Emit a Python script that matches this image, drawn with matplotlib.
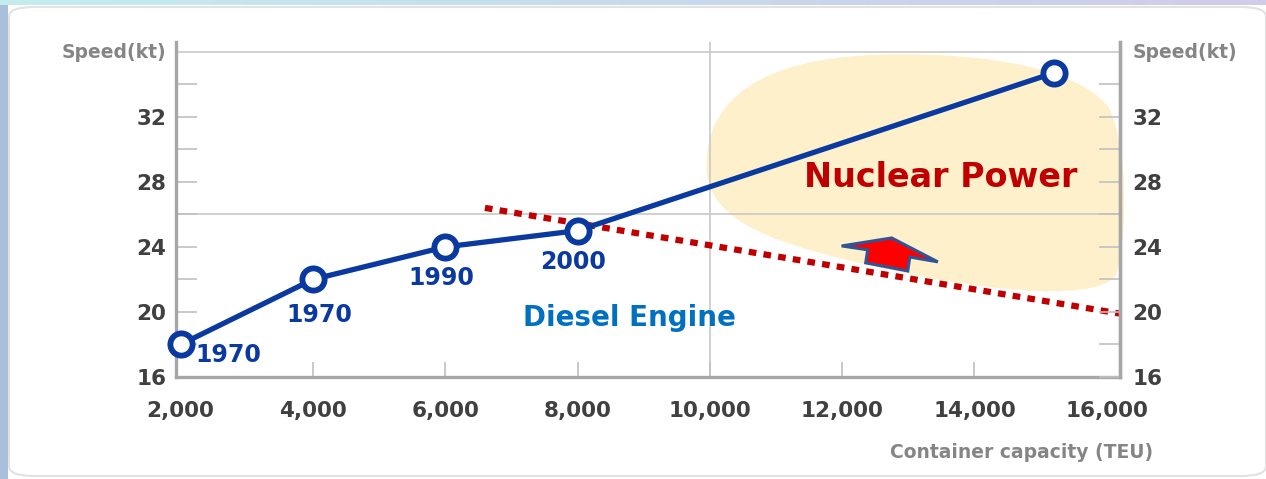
import numpy as np
import matplotlib.pyplot as plt
from matplotlib.path import Path
from matplotlib.patches import PathPatch, Polygon, Rectangle, FancyBboxPatch

plt.rcParams.update({
    "font.family": "DejaVu Sans",
    "font.weight": "bold",
    "lines.scale_dashes": False,
})

# ---------------- data ----------------
capacity = [2000, 4000, 6000, 8000, 15200]      # TEU
speed = [18, 22, 24, 25, 34.7]                   # kt
years = ["1970", "1970", "1990", "2000", ""]
label_offsets = [(48, -11), (6, -36), (-4, -31), (-4, -31), (0, 0)]  # px

limit_x = [6600, 16200]                          # diesel limit line
limit_y = [26.4, 19.9]

x_ticks = [2000, 4000, 6000, 8000, 10000, 12000, 14000, 16000]
x_ticklabels = ["2,000", "4,000", "6,000", "8,000", "10,000", "12,000", "14,000", "16,000"]
y_major = [16, 20, 24, 28, 32]
y_minor = [18, 22, 26, 30, 34]

# nuclear region blob (data coords, bezier control points)
blob = [(9949, 28.74),
        (9918, 33.05), (10766, 35.63), (12583, 35.82),
        (14248, 36.0), (15611, 34.89), (16035, 32.55),
        (16337, 29.97), (16307, 24.43), (16141, 22.28),
        (15914, 20.74), (14400, 21.05), (12583, 22.71),
        (11069, 24.12), (10009, 25.35), (9949, 28.74)]
arrow = [(12749, 24.55), (13446, 23.08), (13022, 23.38), (12992, 22.52),
         (12356, 23.02), (12386, 23.82), (11992, 24.06)]

LINE = "#0a3a9f"
TICK_TXT = "#404040"
GRAY_TXT = "#858585"
AXIS = "#a6a6a6"

W, H = 1266, 479
fig = plt.figure(figsize=(W / 100, H / 100), dpi=100)

# ---------------- frame decoration ----------------
fig.patches.append(Rectangle((0, 0), 8 / W, 1, transform=fig.transFigure,
                             facecolor="#a9bfdc", edgecolor="none", zorder=-10))
fig.patches.append(FancyBboxPatch((9 / W, 3 / H), (W - 9) / W, (H - 10) / H,
                                  boxstyle="round,pad=0,rounding_size=0.02",
                                  transform=fig.transFigure, facecolor="white",
                                  edgecolor="#e2e2e2", linewidth=1.5, zorder=-9))
strip = fig.add_axes([0, 1 - 5 / H, 1, 5 / H])
grad = np.linspace(0, 1, 300)
cols = np.array([[0.77, 0.93, 0.93], [0.78, 0.85, 0.93], [0.82, 0.80, 0.92]])
img = np.empty((1, 300, 3))
for c in range(3):
    img[0, :, c] = np.interp(grad, [0, 0.55, 1], cols[:, c])
strip.imshow(img, aspect="auto")
strip.axis("off")

# ---------------- main axes ----------------
ax = fig.add_axes([176 / W, 1 - 377 / H, (1120 - 176) / W, (377 - 42) / H])
ax.set_xlim(1930, 16200)
ax.set_ylim(16, 36.6)
ax.patch.set_alpha(0)

# blob
codes = [Path.MOVETO] + [Path.CURVE4] * 15
ax.add_patch(PathPatch(Path(blob, codes), facecolor="#fdf0ca", edgecolor="none",
                       zorder=0, clip_on=False))

# grid lines
ax.axhline(26, color="#c8c8c8", lw=1.2, zorder=1)
ax.axhline(36, color="#c8c8c8", lw=1.2, zorder=1)
ax.axvline(10000, color="#c8c8c8", lw=1.2, zorder=1)

# diesel limit line
lim_line, = ax.plot(limit_x, limit_y, color="#c00000", lw=4.5, zorder=2,
                    solid_capstyle="butt", dash_capstyle="butt", clip_on=False)
lim_line.set_dashes((5.5, 5.2))

# arrow
ax.add_patch(Polygon(arrow, closed=True, facecolor="#ff0000", edgecolor="#2f5597",
                     linewidth=2.2, zorder=3))

# speed line
ax.plot(capacity, speed, color=LINE, lw=3.8, zorder=4, clip_on=False,
        marker="o", markersize=16, markerfacecolor="white",
        markeredgecolor=LINE, markeredgewidth=4.2)

for x, y, t, (dx, dy) in zip(capacity, speed, years, label_offsets):
    if t:
        ax.annotate(t, (x, y), xytext=(dx * 0.72, dy * 0.72), textcoords="offset points",
                    ha="center", va="center", fontsize=17, color=LINE,
                    fontweight="bold", zorder=5)

ax.text(8783, 19.63, "Diesel Engine", ha="center", va="center",
        fontsize=20, color="#0070c0", fontweight="bold")
ax.text(13491, 28.25, "Nuclear Power", ha="center", va="center",
        fontsize=24, color="#c00000", fontweight="bold")

# spines / ticks
for s in ["left", "bottom", "right"]:
    ax.spines[s].set_color(AXIS)
    ax.spines[s].set_linewidth(2.4)
ax.spines["top"].set_visible(False)

ax.set_xticks(x_ticks)
ax.set_xticklabels(x_ticklabels)
ax.set_yticks(y_major)
ax.set_yticks(y_minor, minor=True)
ax.tick_params(axis="x", direction="in", length=11, width=1.2, color="#c0c0c0",
               labelsize=15.5, labelcolor=TICK_TXT, pad=17)
ax.tick_params(axis="y", which="both", direction="in", length=15, width=1.2,
               color="#c0c0c0", labelsize=15.5, labelcolor=TICK_TXT, pad=7)
xt = ax.xaxis.get_major_ticks()
xt[0].tick1line.set_visible(False)
xt[-1].tick1line.set_visible(False)

ax2 = ax.twinx()
ax2.set_ylim(ax.get_ylim())
ax2.set_yticks(y_major)
ax2.set_yticks(y_minor, minor=True)
ax2.tick_params(axis="y", which="both", direction="in", length=15, width=1.2,
                color="#c0c0c0", labelsize=15.5, labelcolor=TICK_TXT, pad=9)
for s in ["left", "bottom", "top"]:
    ax2.spines[s].set_visible(False)
ax2.spines["right"].set_color(AXIS)
ax2.spines["right"].set_linewidth(2.4)

fig.text(166 / W, 1 - 53 / H, "Speed(kt)", ha="right", va="center",
         fontsize=13.5, color=GRAY_TXT, fontweight="bold")
fig.text(1133 / W, 1 - 53 / H, "Speed(kt)", ha="left", va="center",
         fontsize=13.5, color=GRAY_TXT, fontweight="bold")
fig.text(1153 / W, 1 - 452 / H, "Container capacity (TEU)", ha="right", va="center",
         fontsize=13.5, color=GRAY_TXT, fontweight="bold")

fig.savefig("out.png", dpi=100)
